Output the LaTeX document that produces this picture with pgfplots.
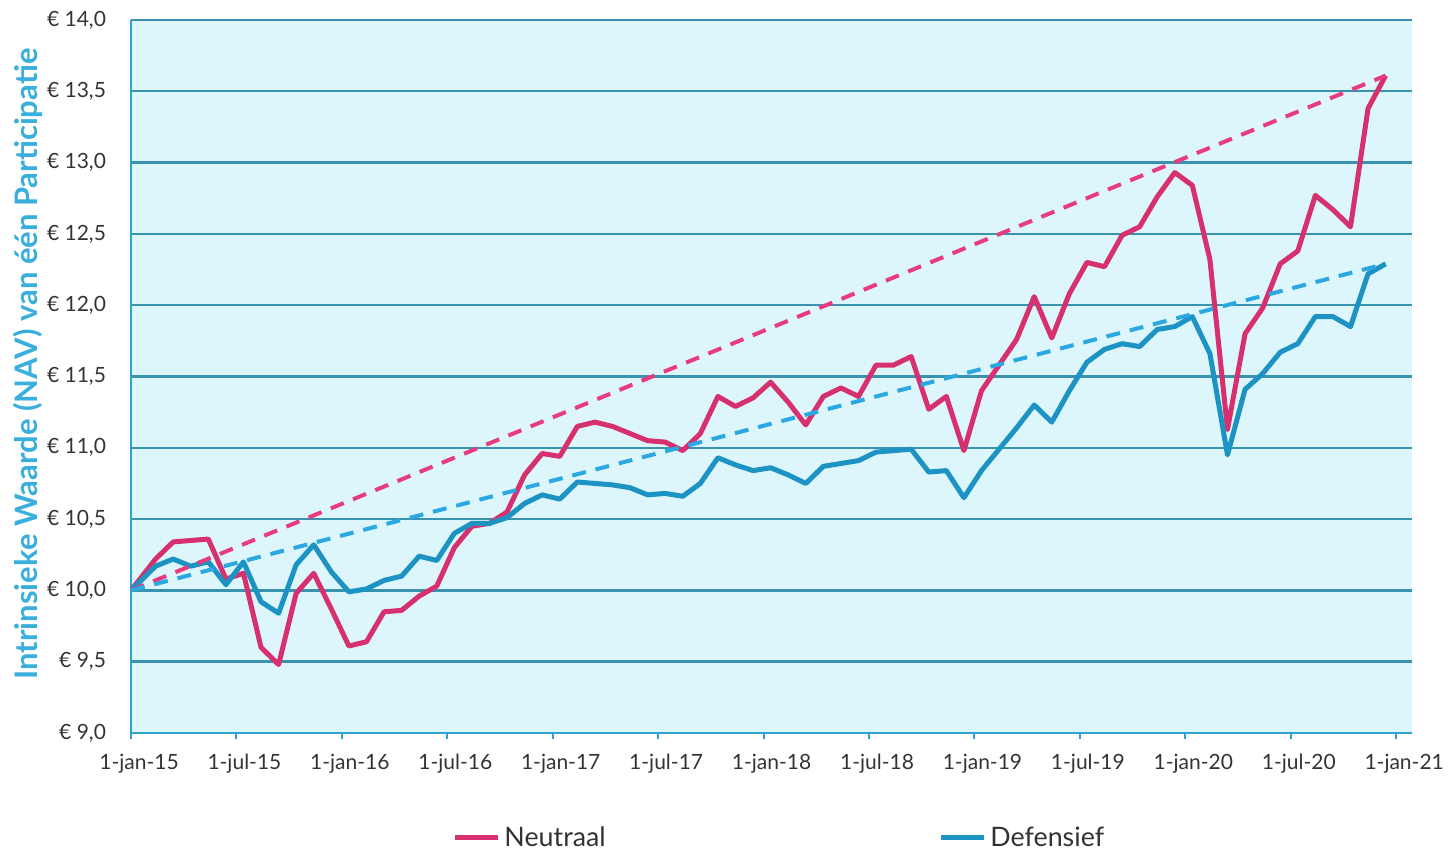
\documentclass[border=0pt]{standalone}
\usepackage{fontspec}
\setmainfont{Lato}
\usepackage{pgfplots}
\usepackage{pgfplotstable}
\pgfplotsset{compat=1.18}
\usetikzlibrary{calc}
\definecolor{neucol}{HTML}{D6316E}
\definecolor{defcol}{HTML}{1C93C2}
\definecolor{neudash}{HTML}{E83C80}
\definecolor{defdash}{HTML}{2BA8E2}
\definecolor{bgcol}{HTML}{DDF6FC}
\definecolor{gridcol}{HTML}{3A93AE}
\definecolor{axcol}{HTML}{2FA3CE}
\definecolor{labcol}{HTML}{3AAEDC}
\definecolor{txtcol}{HTML}{333333}

% month index (0 = 1-jan-15), NAV Neutraal, NAV Defensief
\pgfplotstableread{
x    neu    def
0    10.00  10.00
1.4  10.22  10.17
2.4  10.34  10.22
3.4  10.35  10.17
4.4  10.36  10.20
5.4  10.08  10.04
6.4  10.12  10.20
7.4  9.60   9.92
8.4  9.48   9.84
9.4  9.98   10.18
10.4 10.12  10.32
11.4 9.87   10.13
12.4 9.61   9.99
13.4 9.64   10.01
14.4 9.85   10.07
15.4 9.86   10.10
16.4 9.96   10.24
17.4 10.03  10.21
18.4 10.30  10.40
19.4 10.45  10.47
20.4 10.47  10.47
21.4 10.55  10.51
22.4 10.81  10.61
23.4 10.96  10.67
24.4 10.94  10.64
25.4 11.15  10.76
26.4 11.18  10.75
27.4 11.15  10.74
28.4 11.10  10.72
29.4 11.05  10.67
30.4 11.04  10.68
31.4 10.98  10.66
32.4 11.10  10.75
33.4 11.36  10.93
34.4 11.29  10.88
35.4 11.35  10.84
36.4 11.46  10.86
37.4 11.32  10.81
38.4 11.16  10.75
39.4 11.36  10.87
40.4 11.42  10.89
41.4 11.36  10.91
42.4 11.58  10.97
43.4 11.58  10.98
44.4 11.64  10.99
45.4 11.27  10.83
46.4 11.36  10.84
47.4 10.98  10.65
48.4 11.40  10.84
49.4 11.58  10.99
50.4 11.76  11.14
51.4 12.06  11.30
52.4 11.77  11.18
53.4 12.08  11.40
54.4 12.30  11.60
55.4 12.27  11.69
56.4 12.49  11.73
57.4 12.55  11.71
58.4 12.76  11.83
59.4 12.93  11.85
60.4 12.84  11.92
61.4 12.32  11.66
62.4 11.13  10.95
63.4 11.80  11.41
64.4 11.98  11.52
65.4 12.29  11.67
66.4 12.38  11.73
67.4 12.77  11.92
68.4 12.67  11.92
69.4 12.55  11.85
70.4 13.38  12.22
71.4 13.61  12.29
}\navdata

\begin{document}
\begin{tikzpicture}
\begin{axis}[
  name=ax,
  scale only axis,
  width=640.5pt, height=356.5pt,
  xmin=0, xmax=72.9, ymin=9, ymax=14,
  axis background/.style={fill=bgcol},
  axis x line*=bottom, axis y line*=left,
  axis line style={draw=axcol, line width=1.4pt, -},
  xtick={0,6,12,18,24,30,36,42,48,54,60,66,72},
  xticklabels={1-jan-15,1-jul-15,1-jan-16,1-jul-16,1-jan-17,1-jul-17,1-jan-18,1-jul-18,1-jan-19,1-jul-19,1-jan-20,1-jul-20,1-jan-21},
  ytick={9,9.5,10,10.5,11,11.5,12,12.5,13,13.5,14},
  yticklabels={{€ 9,0},{€ 9,5},{€ 10,0},{€ 10,5},{€ 11,0},{€ 11,5},{€ 12,0},{€ 12,5},{€ 13,0},{€ 13,5},{€ 14,0}},
  ymajorgrids,
  grid style={draw=gridcol, line width=1.2pt},
  xticklabel style={font=\fontsize{10.5}{12}\selectfont, text=txtcol, xshift=4pt, yshift=-4pt},
  yticklabel style={font=\fontsize{10.5}{12}\selectfont, text=txtcol, xshift=-6pt},
  ytick style={draw=none},
  xtick style={draw=axcol, line width=1pt},
  tick align=outside, major tick length=3pt,
  ylabel={Intrinsieke Waarde (NAV) van één Participatie},
  ylabel style={at={(axis description cs:-0.0804,0.5175)}, anchor=center,
    font=\bfseries\fontsize{15.5}{17}\selectfont, text=labcol},
  legend style={at={(0.507,-0.147)}, anchor=center, draw=none, fill=none,
    font=\fontsize{13.4}{15}\selectfont, text=txtcol,
    /tikz/every even column/.append style={column sep=164.5pt}},
  legend columns=2,
  legend cell align=left,
  legend image code/.code={\draw[#1] (0cm,0cm) -- (0.75cm,0cm);},
  line join=round,
]
\addplot[neucol, line width=2.5pt] table[x=x, y=neu] {\navdata};
\addlegendentry{Neutraal}
\addplot[defcol, line width=2.5pt] table[x=x, y=def] {\navdata};
\addlegendentry{Defensief}
\addplot[neudash, line width=2pt, dash pattern=on 7pt off 5pt, forget plot] coordinates {(0,10.00) (71.4,13.61)};
\addplot[defdash, line width=2pt, dash pattern=on 7pt off 5pt, forget plot] coordinates {(0,10.00) (71.4,12.29)};
\end{axis}
\path ($(ax.south west)+(-65.5pt,-58.5pt)$) rectangle ($(ax.north east)+(20.5pt,10pt)$);
\end{tikzpicture}
\end{document}
